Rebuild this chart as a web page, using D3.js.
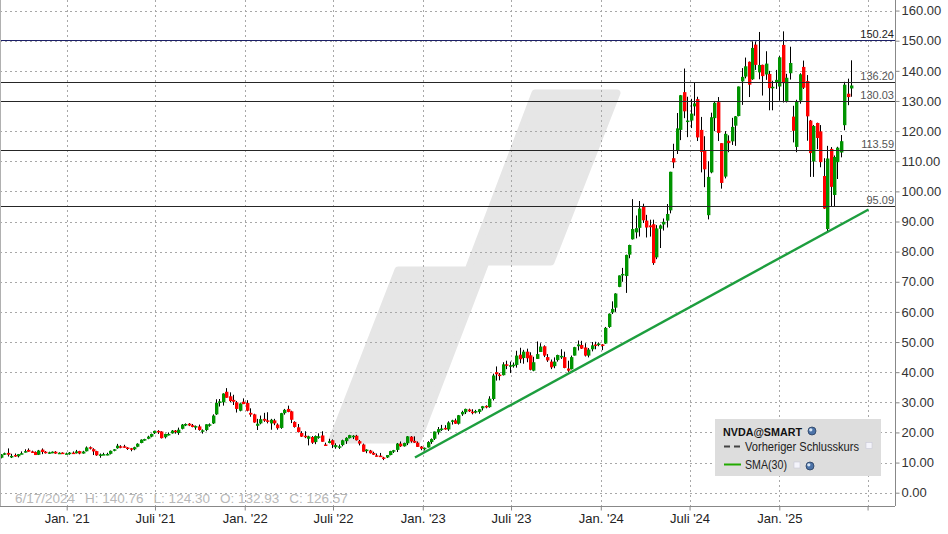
<!DOCTYPE html>
<html><head><meta charset="utf-8">
<script src="https://cdn.jsdelivr.net/npm/d3@7"></script>
<style>body{margin:0;background:#fff}svg{display:block;font-family:"Liberation Sans",Arial,sans-serif}</style>
</head><body><svg id="c" width="948" height="534"></svg>
<script>
// ---------- DATA (weekly candles, week starting Monday) ----------
const firstWeek = "2020-08-17";
const lastWeek = "2025-05-26";
const open = [
11.6,12.8,13.2,12.2,12.5,12.1,12.9,13.3,14.2,13.7,13.5,12.6,14.3,13.6,13.3,13.4,13.6,13.1,13.3,13.0,
13.1,13.3,13.1,13.8,13.0,13.75,15.1,14.45,13.8,12.5,12.75,12.8,12.9,14.0,14.75,15.4,15.4,15.0,14.75,14.4,15.25,16.5,17.6,17.9,18.6,19.75,20.5,20.3,18.4,19.5,19.7,20.6,19.8,21.2,22.6,22.9,22.4,21.6,22.0,20.7,20.8,22.6,23.0,26.0,30.2,30.0,33.5,32.0,30.8,30.0,27.2,30.2,
29.8,26.5,26.0,22.2,23.0,24.5,24.0,23.0,24.0,22.6,21.5,26.4,27.8,27.0,23.5,21.7,19.8,18.9,17.9,18.5,16.8,18.6,19.0,16.0,16.5,17.4,15.1,15.4,15.8,17.1,18.1,18.8,18.9,17.1,16.0,13.8,14.0,13.2,12.4,12.3,11.7,11.7,12.5,13.8,14.2,16.3,15.4,16.4,18.6,17.2,16.6,15.3,
14.8,15.0,16.8,17.9,20.0,20.9,21.5,21.0,23.7,24.0,22.9,26.0,26.7,27.6,26.9,26.7,26.8,28.0,28.8,28.4,31.1,40.0,39.2,39.0,42.6,42.1,42.4,42.4,45.8,44.7,46.8,45.6,40.5,44.4,46.7,48.6,45.0,43.5,42.0,44.0,45.0,45.0,41.2,41.0,45.5,48.6,49.0,48.2,45.5,47.6,49.2,49.2,
49.2,49.5,55.0,59.8,61.4,68.3,72.6,71.9,79.0,84.1,86.4,87.9,95.0,90.3,88.7,89.1,78.1,87.6,89.0,90.3,93.7,111.0,113.6,120.4,132.93,123.2,123.5,128.2,130.6,120.4,113.7,92.1,106.3,124.3,129.6,116.0,104.9,116.8,116.6,121.8,125.0,136.5,138.1,143.0,137.2,148.7,139.5,141.99,138.8,138.97,134.2,136.3,134.8,
148.6,130.0,139.2,124.8,114.75,130.1,141.3,136.6,123.5,109.9,122.7,119.9,105.1,87.5,114.1,98.8,109.7,112.9,121.97,132.4,134.15
];
const high = [
12.8,13.3,14.7,12.9,13.0,12.85,13.7,14.4,14.7,13.95,13.7,14.2,14.7,13.8,13.6,13.7,13.8,13.4,13.4,13.3,
13.5,13.7,14.2,13.9,13.9,15.35,15.35,14.75,13.9,13.0,13.25,13.25,14.0,14.5,16.2,15.75,15.9,15.1,14.85,15.25,16.4,17.7,17.9,18.9,19.6,20.6,20.75,20.4,19.6,20.0,20.8,20.8,21.6,22.8,23.0,23.1,22.8,22.3,22.6,21.0,22.7,23.0,26.0,31.0,31.1,33.0,34.7,33.3,32.5,30.4,29.7,31.3,
30.7,28.0,26.2,24.5,25.6,26.5,26.7,24.5,24.5,23.0,26.5,27.8,28.9,27.2,23.7,22.8,20.4,20.4,18.9,18.8,19.0,19.7,20.4,16.6,17.9,17.7,16.4,16.0,17.6,18.4,19.2,19.1,19.2,17.5,16.3,14.4,14.2,13.6,13.0,13.2,11.9,12.5,13.9,14.2,16.5,17.0,16.6,18.8,18.8,18.7,17.0,15.5,
15.0,17.1,18.0,20.3,21.8,22.5,22.4,23.7,24.2,24.6,25.8,27.2,27.9,27.9,27.7,27.5,27.8,28.8,29.0,32.0,39.5,41.9,39.7,43.3,43.8,43.5,43.2,47.1,48.1,47.4,47.8,46.6,45.1,50.2,49.6,48.9,46.0,44.2,44.9,45.8,47.6,46.8,43.8,45.5,48.4,50.5,50.4,49.6,48.0,50.0,50.1,49.9,
49.3,55.0,59.5,63.5,66.2,72.1,74.6,79.0,82.3,97.4,92.0,96.8,95.9,92.2,90.6,90.6,88.8,89.0,91.0,95.8,106.5,115.8,126.0,132.0,140.76,131.4,130.7,136.2,131.4,124.7,118.3,110.0,126.1,130.0,131.3,116.0,120.0,118.6,124.4,125.0,134.8,140.9,144.4,143.1,149.8,149.7,152.9,142.05,146.5,140.0,136.7,140.3,144.9,
153.1,139.0,148.0,128.4,130.4,139.2,143.4,138.6,123.7,122.0,122.8,122.0,111.0,115.1,114.7,111.9,114.8,118.7,136.35,137.4,143.49
];
const low = [
11.4,12.5,12.0,11.5,11.9,11.7,12.8,13.3,13.6,13.2,12.5,12.5,12.8,13.0,12.9,13.1,12.9,12.9,12.9,12.8,
12.6,13.0,13.0,12.75,12.95,13.7,14.35,12.5,12.25,11.6,12.5,12.4,12.7,13.75,14.6,14.75,14.9,14.2,13.75,14.1,15.1,16.4,17.25,17.75,18.4,19.5,19.5,18.0,18.0,19.0,19.6,19.6,19.2,21.0,22.1,22.1,21.7,20.9,20.6,19.6,20.4,21.9,22.8,25.8,28.6,28.9,31.5,30.1,29.1,26.6,27.0,29.4,
27.0,25.2,23.2,20.8,22.7,23.5,23.0,20.9,22.4,20.9,21.2,25.9,26.7,23.1,21.6,20.0,18.5,18.1,15.7,16.2,16.1,17.9,16.9,15.5,16.4,14.8,14.6,14.5,15.4,16.2,18.0,17.8,17.3,15.7,13.6,13.1,13.0,12.5,12.0,12.0,10.8,11.5,12.4,13.2,13.5,15.2,15.3,15.8,16.6,16.5,15.2,14.1,
14.0,15.0,16.2,17.5,19.3,20.5,20.9,20.5,22.6,22.8,22.6,25.5,26.1,26.8,26.0,26.3,26.2,27.3,28.0,28.2,30.6,37.2,37.3,38.9,41.0,39.7,41.5,41.5,43.0,42.8,43.3,40.6,40.3,44.4,46.7,45.0,43.4,41.0,41.3,43.5,44.4,41.3,40.1,40.9,45.5,47.2,47.7,45.2,44.9,46.9,47.6,48.6,
47.3,49.4,54.7,59.3,60.0,68.2,70.0,66.3,77.8,84.0,84.4,85.0,89.5,84.7,85.0,75.6,77.5,81.2,87.0,88.0,92.7,107.7,112.4,117.0,124.30,118.0,121.0,125.1,116.7,106.3,101.4,90.7,106.0,120.0,116.7,100.9,104.3,113.0,115.4,115.1,124.9,128.7,137.5,131.3,137.0,140.3,137.2,131.8,137.0,126.9,126.9,134.0,130.1,
129.5,129.5,137.1,116.25,113.0,129.1,134.0,116.8,104.8,104.8,114.0,108.0,94.2,86.6,95.0,95.0,104.1,111.3,120.28,128.6,131.4
];
const close = [
12.7,13.1,12.6,12.2,12.2,12.8,13.1,13.8,13.6,13.5,12.5,14.0,13.5,13.3,13.4,13.6,13.0,13.25,13.0,13.05,
13.3,13.05,13.7,13.0,13.65,15.0,14.7,13.7,12.4,12.7,12.8,12.85,13.9,14.4,15.6,15.3,15.0,14.95,14.4,15.1,16.25,17.6,17.8,18.6,19.5,20.5,20.0,18.1,19.5,19.5,20.6,20.1,20.9,22.6,22.8,22.3,21.8,22.1,20.8,20.7,22.7,22.7,25.6,29.8,30.3,32.9,31.5,30.4,30.2,27.8,29.6,29.4,
27.2,25.9,23.3,22.9,24.4,23.9,23.6,24.2,23.0,21.4,26.4,27.5,26.8,24.2,21.8,20.1,18.6,18.7,18.7,16.6,18.8,18.7,16.9,15.8,17.1,15.9,15.8,15.4,17.4,18.2,19.1,18.9,17.4,16.3,13.6,14.3,13.1,12.6,12.1,12.0,11.3,12.5,13.8,14.1,16.3,15.4,16.5,18.7,17.0,16.6,15.2,14.6,
14.9,16.8,17.8,20.3,21.1,21.3,21.4,23.3,24.0,22.9,25.7,26.8,27.8,27.0,26.7,27.1,27.7,28.7,28.3,31.2,38.9,39.3,38.8,42.6,42.2,42.3,42.5,45.5,44.3,46.8,44.6,40.8,43.3,46.0,48.5,45.5,43.9,41.6,43.5,45.7,45.4,41.4,40.5,45.0,48.3,49.2,47.8,45.5,47.5,48.9,48.9,49.5,
49.0,54.7,59.4,61.0,66.1,72.1,72.6,78.9,82.2,87.5,87.8,94.3,90.4,88.0,88.1,76.2,87.7,88.7,89.9,92.5,106.5,109.6,120.9,131.9,126.57,123.5,125.8,129.2,117.9,113.1,107.3,104.8,124.6,129.4,119.4,102.8,119.1,116.0,121.4,124.9,134.8,138.0,141.5,135.4,147.6,141.98,141.95,138.25,142.4,134.25,134.7,137.0,144.5,
135.9,137.7,142.6,120.1,129.8,138.85,134.4,124.9,112.7,121.7,117.7,109.7,94.3,110.9,101.5,111.4,114.5,116.65,135.4,131.29,135.13
];
const levels = [150.24, 136.20, 130.03, 113.59, 95.09];
const trendDates = ["2022-12-16", "2025-07-03"];
const trendValues = [11.7, 94.0];
const yTickValues = [0,10,20,30,40,50,60,70,80,90,100,110,120,130,140,150,160];
const xTickDates = ["2021-01-01","2021-07-01","2022-01-01","2022-07-01","2023-01-01","2023-07-01","2024-01-01","2024-07-01","2025-01-01","2025-07-01"];
const xTickLabels = ["Jan. '21","Juli '21","Jan. '22","Juli '22","Jan. '23","Juli '23","Jan. '24","Juli '24","Jan. '25",""];
const infoParts = ["6/17/2024","H: 140.76","L: 124.30","O: 132.93","C: 126.57"];
const legendTitle = "NVDA@SMART";
const legendItems = ["Vorheriger Schlusskurs","SMA(30)"];

// ---------- CHART ----------
const W = 948, H = 534, plotR = 895, plotB = 506;
const parse = d3.utcParse("%Y-%m-%d");
const svg = d3.select("#c");

const x = d3.scaleUtc().domain([parse("2021-01-01"), parse("2025-01-01")]).range([66.7, 779.3]);
const y = d3.scaleLinear().domain([0, 150]).range([492.7, 40.7]);

const weeks = d3.utcMonday.range(parse(firstWeek), d3.utcDay.offset(parse(lastWeek), 1));
const data = weeks.slice(0, open.length).map((d, i) => ({d, o: open[i], h: high[i], l: low[i], c: close[i]}));

svg.append("defs").append("clipPath").attr("id", "clip")
  .append("rect").attr("x", 0).attr("y", 0).attr("width", plotR).attr("height", plotB);

// watermark
svg.append("path")
  .attr("d", "M332,440 L398,270 L468,270 L535,93 L617,93 L551,262 L486,262 L418,440 Z")
  .attr("fill", "#e6e6e6").attr("stroke", "#e6e6e6").attr("stroke-width", 7).attr("stroke-linejoin", "round");

// grid
const grid = svg.append("g").attr("stroke", "#a8a8a8").attr("stroke-dasharray", "2,3").attr("stroke-width", 1);
grid.selectAll("line.h").data(yTickValues).join("line").attr("class", "h")
  .attr("x1", 0).attr("x2", plotR).attr("y1", d => Math.round(y(d)) + 0.5).attr("y2", d => Math.round(y(d)) + 0.5);
grid.selectAll("line.v").data(xTickDates).join("line").attr("class", "v")
  .attr("x1", d => Math.round(x(parse(d))) + 0.5).attr("x2", d => Math.round(x(parse(d))) + 0.5)
  .attr("y1", 0).attr("y2", plotB);

// candles
const cg = svg.append("g").attr("clip-path", "url(#clip)");
const cx = d => Math.round(x(d3.utcDay.offset(d.d, 2)));
cg.selectAll("line.wick").data(data).join("line").attr("class", "wick")
  .attr("x1", d => cx(d) + 0.5).attr("x2", d => cx(d) + 0.5)
  .attr("y1", d => y(d.h)).attr("y2", d => y(d.l))
  .attr("stroke", "#000").attr("stroke-width", 1);
cg.selectAll("rect.body").data(data).join("rect").attr("class", "body")
  .attr("x", d => cx(d) - 1).attr("width", 3.4)
  .attr("y", d => y(Math.max(d.o, d.c)))
  .attr("height", d => Math.max(1.5, Math.abs(y(d.o) - y(d.c))))
  .attr("fill", d => d.c >= d.o ? "#009400" : "#ff0000");

// level lines
const ly = d => Math.round(y(d)) + 0.5;
const lv = svg.append("g");
lv.selectAll("line").data(levels).join("line")
  .attr("x1", 0).attr("x2", plotR)
  .attr("y1", ly).attr("y2", ly)
  .attr("stroke", (d, i) => i === 0 ? "#1c2068" : "#262626").attr("stroke-width", 1.1);
lv.selectAll("text").data(levels).join("text")
  .attr("x", plotR - 1).attr("y", d => ly(d) - 3)
  .attr("text-anchor", "end").attr("font-size", 11)
  .attr("fill", (d, i) => i === 0 ? "#222" : "#555")
  .text(d => d.toFixed(2));

// trend line
svg.append("line")
  .attr("x1", x(parse(trendDates[0]))).attr("y1", y(trendValues[0]))
  .attr("x2", x(parse(trendDates[1]))).attr("y2", y(trendValues[1]))
  .attr("stroke", "#1d9e3e").attr("stroke-width", 2.4);

// borders / axes
svg.append("line").attr("x1", 0.5).attr("x2", 0.5).attr("y1", 0).attr("y2", plotB).attr("stroke", "#b0b0b0");

const ya = svg.append("g").attr("transform", `translate(${plotR + 0.5},0)`)
  .call(d3.axisRight(y).tickValues(yTickValues).tickSize(4).tickPadding(2).tickFormat(d3.format(".2f")));
ya.select(".domain").attr("d", `M0,0V${plotB}`).attr("stroke", "#888");
ya.selectAll(".tick line").attr("stroke", "#888");
ya.selectAll("text").attr("font-size", 13).attr("fill", "#333").attr("font-family", "Liberation Sans, Arial, sans-serif");

const xa = svg.append("g").attr("transform", `translate(0,${plotB + 0.5})`)
  .call(d3.axisBottom(x).tickValues(xTickDates.map(parse)).tickSize(4).tickPadding(3)
    .tickFormat((d, i) => xTickLabels[i]));
xa.select(".domain").attr("d", `M0,0H${plotR}`).attr("stroke", "#888");
xa.selectAll(".tick line").attr("stroke", "#888");
xa.selectAll("text").attr("font-size", 13).attr("fill", "#222").attr("font-family", "Liberation Sans, Arial, sans-serif");

// info text
const info = svg.append("text").attr("x", 15).attr("y", 503).attr("font-size", 13.5).attr("fill", "#b8b8b8");
infoParts.forEach((t, i) => info.append("tspan").attr("dx", i ? 10 : 0).text(t));

// legend
const lg = svg.append("g");
lg.append("rect").attr("x", 715).attr("y", 419).attr("width", 166).attr("height", 57).attr("fill", "#dddddd");
lg.append("text").attr("x", 723).attr("y", 436).attr("font-size", 11).attr("font-weight", "bold").attr("fill", "#111")
  .attr("textLength", 79).attr("lengthAdjust", "spacingAndGlyphs").text(legendTitle);
function globe(cx0, cy0) {
  lg.append("circle").attr("cx", cx0).attr("cy", cy0).attr("r", 4).attr("fill", "#4c73a8").attr("stroke", "#2a3f5f").attr("stroke-width", 0.8);
  lg.append("circle").attr("cx", cx0 - 1.2).attr("cy", cy0 - 1.2).attr("r", 1.6).attr("fill", "#d8e6f5");
}
globe(812, 431);
lg.append("line").attr("x1", 724).attr("x2", 741).attr("y1", 446.5).attr("y2", 446.5)
  .attr("stroke", "#444").attr("stroke-width", 2).attr("stroke-dasharray", "6,4");
lg.append("text").attr("x", 745).attr("y", 451).attr("font-size", 12).attr("fill", "#222")
  .attr("textLength", 114).attr("lengthAdjust", "spacingAndGlyphs").text(legendItems[0]);
lg.append("rect").attr("x", 866).attr("y", 442.5).attr("width", 6).attr("height", 6).attr("fill", "#f4f4fb").attr("stroke", "#c8c8d8").attr("stroke-width", 0.6);
lg.append("line").attr("x1", 724).attr("x2", 741).attr("y1", 464.5).attr("y2", 464.5)
  .attr("stroke", "#22aa00").attr("stroke-width", 2);
lg.append("text").attr("x", 745).attr("y", 469).attr("font-size", 12).attr("fill", "#222")
  .attr("textLength", 42).attr("lengthAdjust", "spacingAndGlyphs").text(legendItems[1]);
lg.append("rect").attr("x", 794).attr("y", 462).attr("width", 6).attr("height", 6).attr("fill", "#f4f4fb").attr("stroke", "#c8c8d8").attr("stroke-width", 0.6);
globe(810, 466);
</script></body></html>
